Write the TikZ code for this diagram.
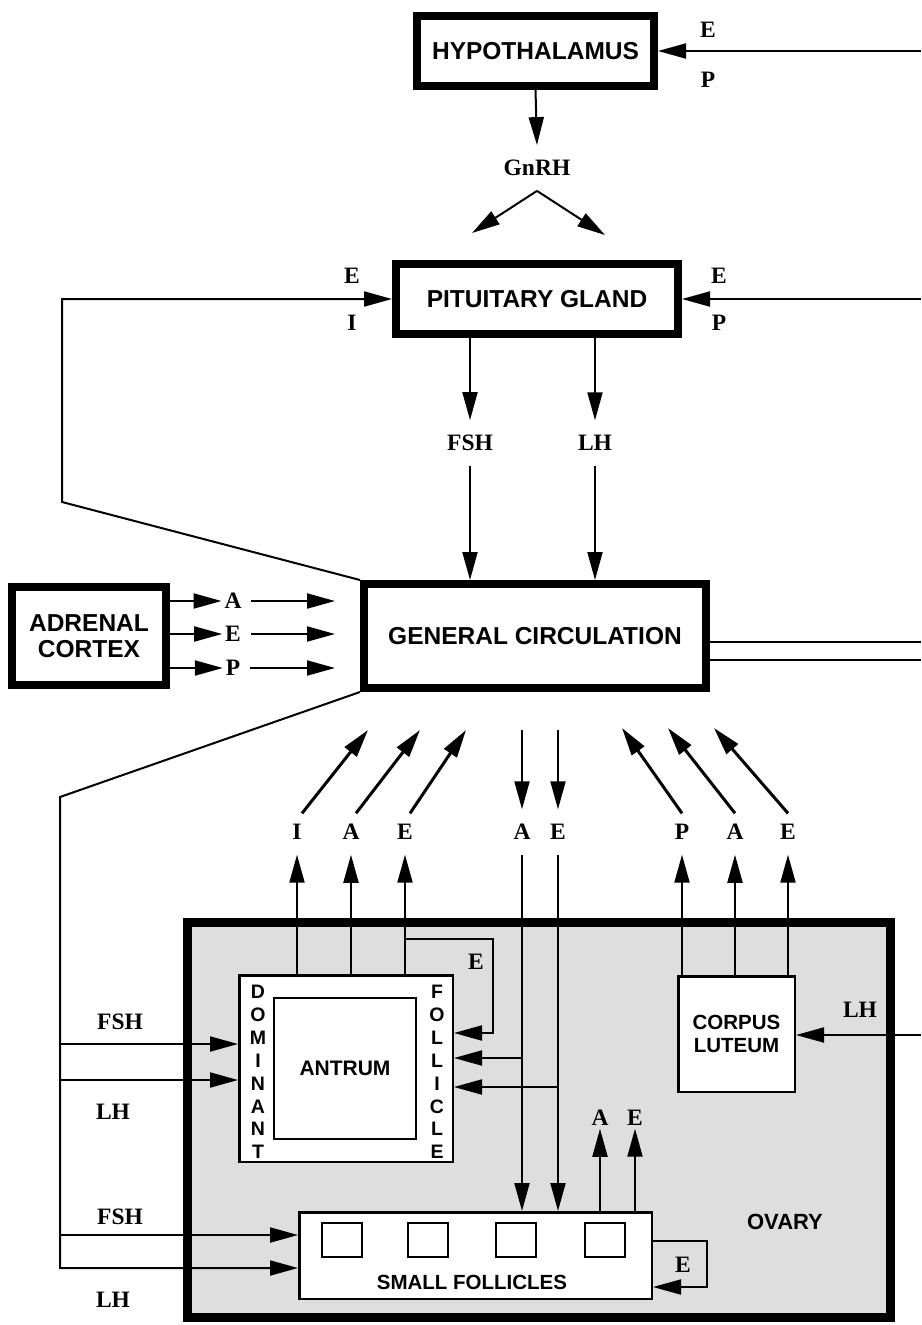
\documentclass[tikz,border=0pt]{standalone}
\usepackage{fontspec}
\setmainfont{Liberation Serif}
\setsansfont{Liberation Sans}
\usetikzlibrary{arrows.meta, positioning, calc}

\begin{document}
\begin{tikzpicture}[
    x=1pt, y=-1pt,
    organ/.style={draw, line width=8pt, rectangle, align=center, fill=white, inner sep=0pt, font=\sffamily\bfseries\fontsize{24.5}{26}\selectfont},
    tissue/.style={draw, line width=2.5pt, rectangle, align=center, fill=white, inner sep=0pt, font=\sffamily\bfseries\fontsize{20.5}{23}\selectfont},
    cell/.style={draw, line width=2pt, rectangle, fill=white, minimum width=40pt, minimum height=34pt, inner sep=0pt},
    letters/.style={align=center, inner sep=0pt, font=\sffamily\bfseries\fontsize{19.5}{22.9}\selectfont},
    hormone/.style={font=\bfseries\fontsize{23.5}{25}\selectfont, inner sep=0pt, outer sep=15pt},
    arrow/.style={line width=2pt, -{Triangle[length=28pt, width=15pt]}},
    bold arrow/.style={arrow, line width=3pt},
    link/.style={line width=2pt}
]
\useasboundingbox (0,0) rectangle (921,1325);
\fill[white] (0,0) rectangle (921,1325);

% Brain and blood
\node[organ, minimum width=237pt, minimum height=70pt] (hypo) at (535.5,51) {HYPOTHALAMUS};
\node[organ, minimum width=282pt, minimum height=70pt] (pit) at (537,299) {PITUITARY GLAND};
\node[organ, minimum width=342pt, minimum height=104pt] (gc) at (535,636) {GENERAL CIRCULATION};
\node[organ, minimum width=154pt, minimum height=98pt] (adr) at (89,636) {ADRENAL\\CORTEX};

% Ovary
\node[draw, line width=9pt, fill=black!13, minimum width=703pt, minimum height=395pt] (ovary) at (539,1120) {};
\node[font=\sffamily\bfseries\fontsize{22}{24}\selectfont] (ovlbl) at (785,1222) {OVARY};
\node[tissue, minimum width=213.5pt, minimum height=186.5pt] (df) at (346,1068.5) {};
\node[draw, line width=2pt, fill=white, minimum width=142pt, minimum height=141pt, font=\sffamily\bfseries\fontsize{21}{23}\selectfont] (antrum) at (345,1068.5) {ANTRUM};
\node[letters] (dom) at (258,1072) {D\\O\\M\\I\\N\\A\\N\\T};
\node[letters] (fol) at (437,1072) {F\\O\\L\\L\\I\\C\\L\\E};
\node[tissue, minimum width=116.5pt, minimum height=115.5pt] (cl) at (736.5,1034) {CORPUS\\LUTEUM};
\node[tissue, minimum width=352.5pt, minimum height=86.5pt] (sf) at (475.5,1255.5) {};
\foreach \x [count=\i] in {341.5,427.5,516,605}
    \node[cell] (c\i) at (\x,1240) {};
\node[font=\sffamily\bfseries\fontsize{20.5}{23}\selectfont] (sflbl) at (472,1282) {SMALL FOLLICLES};

% Hypothalamus and pituitary
\coordinate (rhyp) at (921,51);
\draw[arrow] (rhyp) -- (hypo.east);
\node[hormone] (hypE) at (708,30) {E};
\node[hormone] (hypP) at (708,80) {P};
\node[hormone] (gnrh) at (537,168) {GnRH};
\draw[arrow] (hypo.south) -- (gnrh.north);
\coordinate (gnL) at (472,233);
\coordinate (gnR) at (605,235);
\draw[arrow] (gnrh.south) -- (gnL);
\draw[arrow] (gnrh.south) -- (gnR);

\coordinate (rpit) at (921,299);
\draw[arrow] (rpit) -- (pit.east);
\node[hormone] (pitE) at (719,276) {E};
\node[hormone] (pitP) at (719,323) {P};
\draw[arrow] (gc.north west) -- (62,502) -- (62,299) -- (pit.west);
\node[hormone] (pitE2) at (352,276) {E};
\node[hormone] (pitI) at (352,323) {I};

\node[hormone] (fsh) at (470,443) {FSH};
\node[hormone] (lh) at (595,443) {LH};
\foreach \n in {fsh,lh} {
    \draw[arrow] (pit.south -| \n) -- (\n.north);
    \draw[arrow] (\n.south) -- (\n |- gc.north);
}

% Adrenal cortex
\foreach \h/\y [count=\i] in {A/601,E/634,P/668} {
    \node[hormone, outer sep=3pt] (adr\i) at (233,\y) {\h};
    \draw[arrow] (adr\i -| adr.east) -- (adr\i.west);
    \draw[arrow, shorten <=7pt, shorten >=25pt] (adr\i.east) -- (adr\i -| gc.west);
}

% Right hand feedback lines
\coordinate (rgc1) at (921,642);
\coordinate (rgc2) at (921,660);
\draw[link] (rgc1 -| gc.east) -- (rgc1);
\draw[link] (rgc2 -| gc.east) -- (rgc2);

% Ovary to circulation
\node[hormone] (dfI) at (297,832) {I};
\node[hormone] (dfA) at (351,832) {A};
\node[hormone] (dfE) at (405,832) {E};
\node[hormone] (ciA) at (522,832) {A};
\node[hormone] (ciE) at (558,832) {E};
\node[hormone] (clP) at (682,832) {P};
\node[hormone] (clA) at (735,832) {A};
\node[hormone] (clE) at (788,832) {E};

\coordinate (gi1) at (368,730);
\coordinate (gi2) at (420,730);
\coordinate (gi3) at (466,730);
\coordinate (gp1) at (622,728);
\coordinate (gp2) at (668,728);
\coordinate (gp3) at (714,728);
\foreach \n/\g in {dfI/gi1,dfA/gi2,dfE/gi3} {
    \draw[arrow] (df.north -| \n) -- (\n.south);
    \draw[bold arrow] ($(\n.north)+(5,4)$) -- (\g);
}
\foreach \n/\g in {clP/gp1,clA/gp2,clE/gp3} {
    \draw[arrow] (cl.north -| \n) -- (\n.south);
    \draw[bold arrow] ($(\n.north)+(0,4)$) -- (\g);
}

% Circulation to follicles
\coordinate (gcA) at (522,730);
\coordinate (gcE) at (558,730);
\draw[arrow] (gcA) -- (ciA.north);
\draw[arrow] (gcE) -- (ciE.north);
\draw[arrow] (ciA.south) -- (ciA |- sf.north);
\draw[arrow] (ciE.south) -- (ciE |- sf.north);
\coordinate (brA) at (522,1058);
\coordinate (brE) at (558,1087);
\draw[arrow] (brA) -- (brA -| df.east);
\draw[arrow] (brE) -- (brE -| df.east);

% Dominant follicle loop
\coordinate (dfl1) at (405,939);
\coordinate (dfl2) at (493,1033);
\draw[arrow] (dfl1) -- (dfl1 -| dfl2) -- (dfl2) -- (dfl2 -| df.east);
\node[hormone] (dfloopE) at (476,962) {E};

% FSH and LH from circulation
\coordinate (lbend) at (60,797);
\coordinate (ldf1) at (60,1044);
\coordinate (ldf2) at (60,1080);
\coordinate (lsf1) at (60,1235);
\coordinate (lsf2) at (60,1268);
\draw[arrow] (gc.south west) -- (lbend) -- (lsf2) -- (lsf2 -| sf.west);
\draw[arrow] (ldf1) -- (ldf1 -| df.west);
\draw[arrow] (ldf2) -- (ldf2 -| df.west);
\draw[arrow] (lsf1) -- (lsf1 -| sf.west);
\node[hormone] (lFSH1) at (120,1022) {FSH};
\node[hormone] (lLH1) at (113,1112) {LH};
\node[hormone] (lFSH2) at (120,1217) {FSH};
\node[hormone] (lLH2) at (113,1300) {LH};

% Small follicles
\node[hormone, outer sep=3pt] (sfA) at (600,1118) {A};
\node[hormone, outer sep=3pt] (sfE) at (635,1118) {E};
\draw[arrow] (sf.north -| sfA) -- (sfA.south);
\draw[arrow] (sf.north -| sfE) -- (sfE.south);
\coordinate (sfl1) at (707,1241);
\coordinate (sfl2) at (707,1287);
\draw[arrow] (sf.east |- sfl1) -- (sfl1) -- (sfl2) -- (sfl2 -| sf.east);
\node[hormone] (sfloopE) at (683,1265) {E};

% Corpus luteum
\coordinate (rcl) at (921,1035);
\draw[arrow] (rcl) -- (rcl -| cl.east);
\node[hormone] (clLH) at (860,1010) {LH};
\end{tikzpicture}
\end{document}
